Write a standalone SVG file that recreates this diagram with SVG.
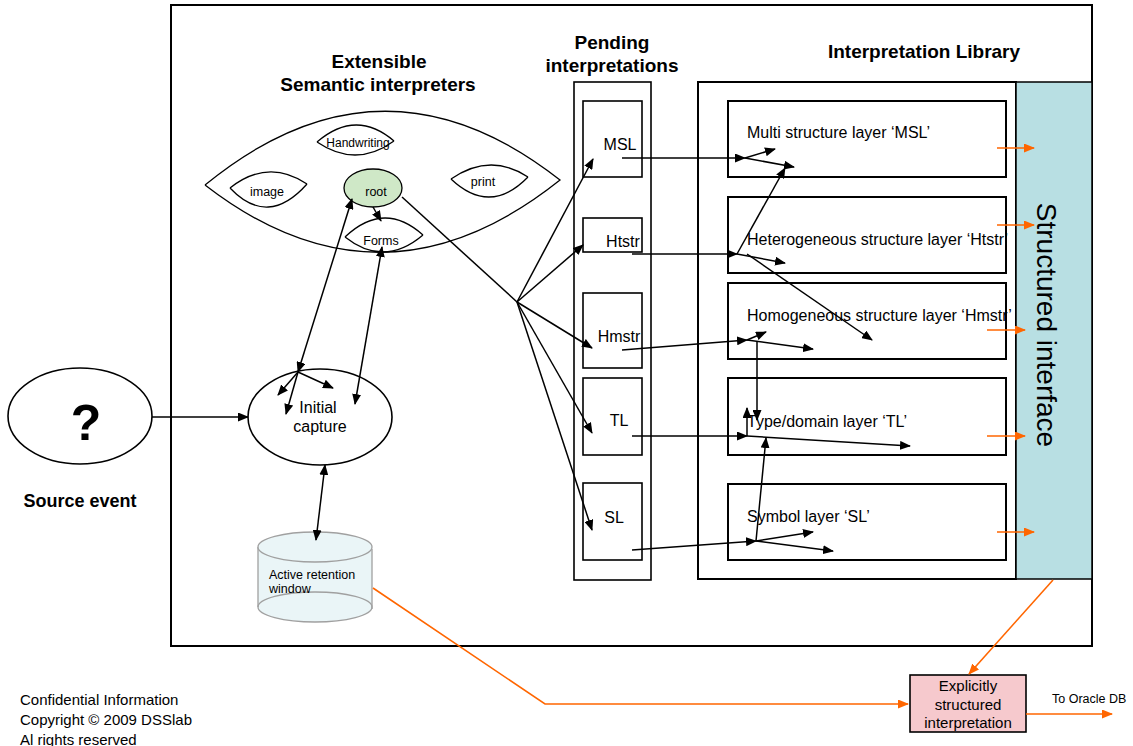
<svg xmlns="http://www.w3.org/2000/svg" width="1133" height="746" viewBox="0 0 1133 746">
<style>
text{font-family:"Liberation Sans",Arial,sans-serif;fill:#000}
.title{font-size:19px;font-weight:bold;text-anchor:middle}
.sm{font-size:12.5px}
.md{font-size:16px}
.box{fill:#fff;stroke:#000;stroke-width:2}
.pbox{fill:#fff;stroke:#000;stroke-width:1.6}
.lens{fill:none;stroke:#000;stroke-width:1.3}
.c{fill:none;stroke:#000;stroke-width:1.5}
.o{fill:none;stroke:#ff6600;stroke-width:1.6}
</style>
<defs>
<marker id="ah" markerUnits="userSpaceOnUse" markerWidth="11" markerHeight="9" refX="10" refY="4.5" orient="auto-start-reverse"><path d="M0,0 L11,4.5 L0,9 z" fill="#000"/></marker>
<marker id="oh" markerUnits="userSpaceOnUse" markerWidth="11" markerHeight="9" refX="10" refY="4.5" orient="auto-start-reverse"><path d="M0,0 L11,4.5 L0,9 z" fill="#ff6600"/></marker>
</defs>
<rect width="1133" height="746" fill="#fff"/>

<g id="main-frame">
<rect x="171" y="5" width="921" height="641" fill="#fff" stroke="#000" stroke-width="2"/>
</g>

<g id="titles">
<text class="title" x="379" y="68">Extensible</text>
<text class="title" x="378" y="91">Semantic interpreters</text>
<text class="title" x="612" y="49">Pending</text>
<text class="title" x="612" y="72">interpretations</text>
<text class="title" x="924" y="58">Interpretation Library</text>
</g>

<g id="source-event">
<ellipse cx="80" cy="416" rx="72" ry="48" fill="#fff" stroke="#000" stroke-width="1.6"/>
<text x="86" y="440" font-size="50" font-weight="bold" text-anchor="middle">?</text>
<text x="80" y="507" font-size="18" font-weight="bold" text-anchor="middle">Source event</text>
</g>

<g id="interpreters">
<path class="lens" d="M205,185 Q382,40 560,180 Q382,322 205,185"/>
<path class="lens" d="M317,142 Q356,108.5 394,141 M317,142 Q356,168.5 394,141"/>
<text x="358" y="147" font-size="12" text-anchor="middle">Handwriting</text>
<path class="lens" d="M230,188 Q268,158 307,184 M230,188 Q268,228 307,184"/>
<text class="sm" x="267" y="196" text-anchor="middle">image</text>
<path class="lens" d="M451,179 Q490,152 528,177 M451,179 Q490,216 528,177"/>
<text class="sm" x="483" y="186" text-anchor="middle">print</text>
<path class="lens" d="M345,237 Q384,200 423,235 M345,237 Q384,268 423,235"/>
<text class="sm" x="381" y="245" text-anchor="middle">Forms</text>
</g>

<g id="root">
<ellipse cx="373" cy="188" rx="29" ry="19" fill="#cfe8c7" stroke="#000" stroke-width="1.3"/>
<text class="sm" x="376" y="196" text-anchor="middle">root</text>
</g>

<g id="initial-capture">
<ellipse cx="320" cy="417" rx="72" ry="48" fill="#fff" stroke="#000" stroke-width="1.6"/>
<text class="md" x="318" y="413" text-anchor="middle">Initial</text>
<text class="md" x="320" y="432" text-anchor="middle">capture</text>
</g>

<g id="retention-window">
<rect x="258" y="547" width="114" height="60" fill="#eaf5f7" stroke="none"/>
<ellipse cx="315" cy="607" rx="57" ry="15" fill="#eaf5f7" stroke="#a0a0a0" stroke-width="1.3"/>
<line x1="258" y1="547" x2="258" y2="607" stroke="#a0a0a0" stroke-width="1.3"/>
<line x1="372" y1="549" x2="372" y2="609" stroke="#a0a0a0" stroke-width="1.3"/>
<ellipse cx="315" cy="547" rx="57" ry="15" fill="#eaf5f7" stroke="#a0a0a0" stroke-width="1.3"/>
<text x="269" y="579" font-size="12.5">Active retention</text>
<text x="269" y="593" font-size="12.5">window</text>
</g>

<g id="pending">
<rect class="pbox" x="574" y="82" width="77" height="498"/>
<rect class="pbox" x="583" y="101" width="59" height="76"/>
<text class="md" x="620" y="150" text-anchor="middle">MSL</text>
<rect class="pbox" x="583" y="218" width="59" height="34"/>
<text class="md" x="623" y="247" text-anchor="middle">Htstr</text>
<rect class="pbox" x="583" y="293" width="59" height="75"/>
<text class="md" x="619" y="342" text-anchor="middle">Hmstr</text>
<rect class="pbox" x="583" y="378" width="59" height="77"/>
<text class="md" x="619" y="426" text-anchor="middle">TL</text>
<rect class="pbox" x="583" y="483" width="59" height="77"/>
<text class="md" x="614" y="523" text-anchor="middle">SL</text>
</g>

<g id="library">
<rect class="box" x="698" y="82" width="318" height="497"/>
<rect class="box" x="728" y="101" width="278" height="76"/>
<text class="md" x="747" y="138">Multi structure layer ‘MSL’</text>
<rect class="box" x="728" y="197" width="278" height="76"/>
<text class="md" x="747" y="245">Heterogeneous structure layer ‘Htstr’</text>
<rect class="box" x="728" y="283" width="278" height="76"/>
<text class="md" x="747" y="321">Homogeneous structure layer ‘Hmstr’</text>
<rect class="box" x="728" y="378" width="278" height="77"/>
<text class="md" x="747" y="427">Type/domain layer ‘TL’</text>
<rect class="box" x="728" y="484" width="278" height="76"/>
<text class="md" x="747" y="522">Symbol layer ‘SL’</text>
</g>

<g id="structured-interface">
<rect x="1016" y="82" width="76" height="497" fill="#b8dfe3" stroke="#000" stroke-width="1.5"/>
<text x="1037" y="325" font-size="28" text-anchor="middle" transform="rotate(90 1037 325)">Structured interface</text>
</g>

<g id="explicit">
<rect x="910" y="675" width="116" height="57" fill="#f6c9cd" stroke="#000" stroke-width="1.6"/>
<text x="968" y="691" font-size="15" text-anchor="middle">Explicitly</text>
<text x="968" y="710" font-size="15" text-anchor="middle">structured</text>
<text x="968" y="728" font-size="15" text-anchor="middle">interpretation</text>
</g>

<g id="labels">
<text x="1052" y="703" font-size="12.5">To Oracle DB</text>
<text x="20" y="705" font-size="15">Confidential Information</text>
<text x="20" y="725" font-size="15">Copyright © 2009 DSSlab</text>
<text x="20" y="745" font-size="15">Al rights reserved</text>
</g>

<g id="connectors">
<path class="c" d="M152,417 L248,417" marker-end="url(#ah)"/>
<path class="c" d="M373,207 L381,221" marker-end="url(#ah)"/>
<path class="c" d="M352,199 L298,372" marker-start="url(#ah)" marker-end="url(#ah)"/>
<path class="c" d="M298,372 L286,414" marker-end="url(#ah)"/>
<path class="c" d="M298,372 L278,395" marker-end="url(#ah)"/>
<path class="c" d="M298,372 L333,388" marker-end="url(#ah)"/>
<path class="c" d="M382,247 L355,404" marker-start="url(#ah)" marker-end="url(#ah)"/>
<path class="c" d="M325,465 L316,540" marker-start="url(#ah)" marker-end="url(#ah)"/>
<path class="c" d="M402,197 L517,302"/>
<path class="c" d="M517,302 L593,159" marker-end="url(#ah)"/>
<path class="c" d="M517,302 L583,245" marker-end="url(#ah)"/>
<path class="c" d="M517,302 L592,348" marker-end="url(#ah)"/>
<path class="c" d="M517,302 L592,433" marker-end="url(#ah)"/>
<path class="c" d="M517,302 L592,530" marker-end="url(#ah)"/>
<path class="c" d="M622,158 L745,158" marker-end="url(#ah)"/>
<path class="c" d="M745,158 L775,149" marker-end="url(#ah)"/>
<path class="c" d="M745,158 L794,167" marker-end="url(#ah)"/>
<path class="c" d="M632,254 L737,254" marker-end="url(#ah)"/>
<path class="c" d="M737,254 L785,168" marker-end="url(#ah)"/>
<path class="c" d="M737,254 L785,263" marker-end="url(#ah)"/>
<path class="c" d="M747,254 L872,340" marker-end="url(#ah)"/>
<path class="c" d="M622,350 L747,340" marker-end="url(#ah)"/>
<path class="c" d="M747,340 L766,332" marker-end="url(#ah)"/>
<path class="c" d="M747,340 L813,349" marker-end="url(#ah)"/>
<path class="c" d="M757,342 L757,420" marker-end="url(#ah)"/>
<path class="c" d="M632,436 L747,436" marker-end="url(#ah)"/>
<path class="c" d="M747,436 L747,408" marker-end="url(#ah)"/>
<path class="c" d="M747,436 L910,446" marker-end="url(#ah)"/>
<path class="c" d="M632,550 L756,541" marker-end="url(#ah)"/>
<path class="c" d="M756,541 L766,438" marker-end="url(#ah)"/>
<path class="c" d="M756,541 L813,532" marker-end="url(#ah)"/>
<path class="c" d="M756,541 L833,551" marker-end="url(#ah)"/>
<path class="o" d="M373,588 L545,704 L908,704" marker-end="url(#oh)"/>
<path class="o" d="M1053,580 L969,674" marker-end="url(#oh)"/>
<path class="o" d="M1026,714 L1112,714" marker-end="url(#oh)"/>
<path class="o" d="M997,148 L1034,148" marker-end="url(#oh)"/>
<path class="o" d="M997,225 L1034,225" marker-end="url(#oh)"/>
<path class="o" d="M987,330 L1025,330" marker-end="url(#oh)"/>
<path class="o" d="M987,436 L1025,436" marker-end="url(#oh)"/>
<path class="o" d="M997,532 L1034,532" marker-end="url(#oh)"/>
</g>
</svg>
